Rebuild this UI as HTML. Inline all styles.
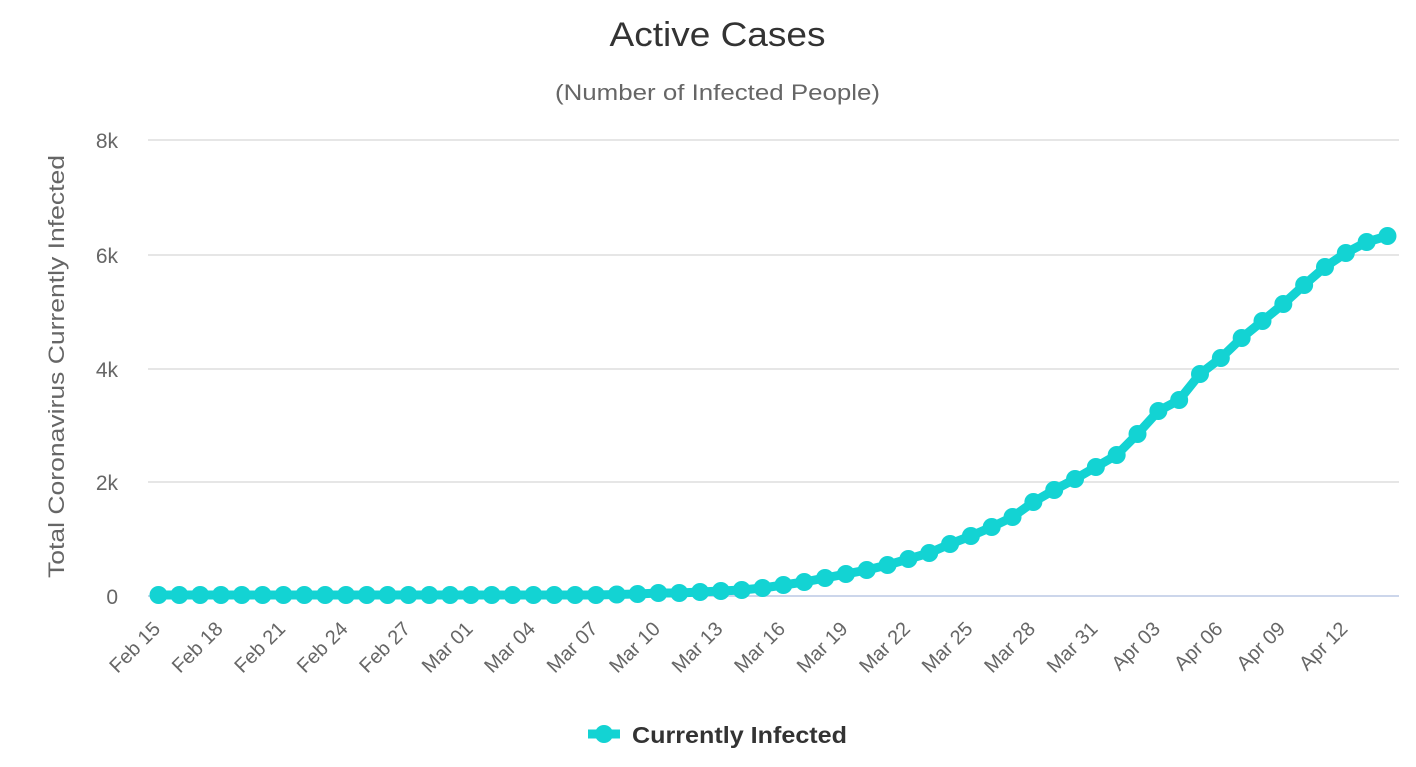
<!DOCTYPE html>
<html><head><meta charset="utf-8"><style>
html,body{margin:0;padding:0;background:#fff;}
svg{display:block;}
text{font-family:"Liberation Sans","DejaVu Sans",sans-serif;}
</style></head><body>
<svg width="1416" height="767" viewBox="0 0 1416 767" xmlns="http://www.w3.org/2000/svg">
<rect width="1416" height="767" fill="#fff"/>
<text x="717.5" y="46" text-anchor="middle" font-size="34" fill="#333" textLength="216" lengthAdjust="spacingAndGlyphs">Active Cases</text>
<text x="717.5" y="100" text-anchor="middle" font-size="22" fill="#666" textLength="325" lengthAdjust="spacingAndGlyphs">(Number of Infected People)</text>
<g stroke="#e6e6e6" stroke-width="2">
<line x1="148" y1="140" x2="1399" y2="140"/>
<line x1="148" y1="255" x2="1399" y2="255"/>
<line x1="148" y1="369" x2="1399" y2="369"/>
<line x1="148" y1="482" x2="1399" y2="482"/>
</g>
<line x1="148" y1="596" x2="1399" y2="596" stroke="#ccd6eb" stroke-width="2"/>
<g font-size="21" fill="#666" text-anchor="end">
<text x="118" y="148">8k</text>
<text x="118" y="263">6k</text>
<text x="118" y="377">4k</text>
<text x="118" y="490">2k</text>
<text x="118" y="604">0</text>
</g>
<text transform="translate(64,366.5) rotate(-90)" text-anchor="middle" font-size="22" fill="#666" textLength="423" lengthAdjust="spacingAndGlyphs">Total Coronavirus Currently Infected</text>
<g id="xl" font-size="20" fill="#666" text-anchor="end"></g>
<g id="series"></g>
<line x1="588" y1="734" x2="620" y2="734" stroke="#13d3d3" stroke-width="9"/>
<circle cx="604" cy="734" r="9" fill="#13d3d3"/>
<text x="632" y="743" font-size="23" font-weight="bold" fill="#333" textLength="215" lengthAdjust="spacingAndGlyphs">Currently Infected</text>
</svg>
<script>
(function(){
var NS="http://www.w3.org/2000/svg";
var ys=[];
for(var i=0;i<22;i++)ys.push(595);
ys=ys.concat([594.5,594,593,593,592,591,590,588,585,582,578,574,570,565,559,553,544,536,527,517,502,490,479,467,455,434,411,400,374,358,338,321,304,285,267,253,242,236]);
var x0=158.5,dx=20.83,col="#13d3d3";
var g=document.getElementById("series");
var pts=ys.map(function(y,i){return (x0+i*dx).toFixed(2)+","+y;}).join(" ");
var pl=document.createElementNS(NS,"polyline");
pl.setAttribute("points",pts);pl.setAttribute("fill","none");pl.setAttribute("stroke",col);
pl.setAttribute("stroke-width","9");pl.setAttribute("stroke-linejoin","round");pl.setAttribute("stroke-linecap","round");
g.appendChild(pl);
ys.forEach(function(y,i){var c=document.createElementNS(NS,"circle");c.setAttribute("cx",(x0+i*dx).toFixed(2));c.setAttribute("cy",y);c.setAttribute("r","9");c.setAttribute("fill",col);g.appendChild(c);});
var labels=["Feb 15","Feb 18","Feb 21","Feb 24","Feb 27","Mar 01","Mar 04","Mar 07","Mar 10","Mar 13","Mar 16","Mar 19","Mar 22","Mar 25","Mar 28","Mar 31","Apr 03","Apr 06","Apr 09","Apr 12"];
var xl=document.getElementById("xl");
labels.forEach(function(t,k){var x=x0+3*k*dx+3,y=630;var e=document.createElementNS(NS,"text");e.setAttribute("transform","translate("+x.toFixed(2)+","+y+") rotate(-45)");e.textContent=t;xl.appendChild(e);});
})();
</script>
</body></html>
